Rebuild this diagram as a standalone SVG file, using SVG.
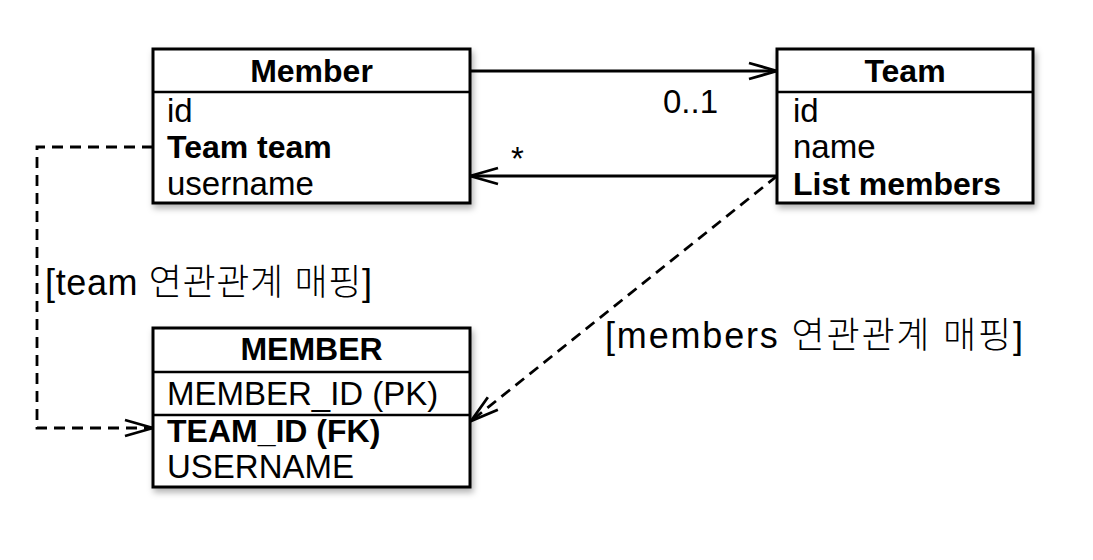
<svg xmlns="http://www.w3.org/2000/svg" width="1093" height="560" viewBox="0 0 1093 560">
<style>
text{font-family:"Liberation Sans","Noto Sans CJK KR",sans-serif;fill:#000}
.title{font-size:32px;font-weight:bold;text-anchor:middle}
.f{font-size:33px}
.b{font-size:32px;font-weight:bold}
.lbl{font-size:36px;font-weight:300}
.box{fill:#fff;stroke:#000;stroke-width:3}
.sep{stroke:#000;stroke-width:2.5}
.conn{fill:none;stroke:#000;stroke-width:2.8}
.dash{stroke-dasharray:11 7}
</style>
<defs>
<filter id="sh" x="-10%" y="-10%" width="130%" height="130%">
<feDropShadow dx="2" dy="4" stdDeviation="3" flood-color="#000" flood-opacity="0.3"/>
</filter>
<marker id="arr" markerUnits="userSpaceOnUse" markerWidth="34" markerHeight="22" refX="28" refY="8" orient="auto" viewBox="-3 -3 34 22">
<path d="M0,0 L28,8 L0,16" fill="none" stroke="#000" stroke-width="2.8" stroke-dasharray="none"/>
</marker>
</defs>
<rect width="1093" height="560" fill="#fff"/>
<g id="connectors">
<path class="conn" d="M470,71 L777,71" marker-end="url(#arr)"/>
<path class="conn" d="M777,176 L470,176" marker-end="url(#arr)"/>
<path class="conn dash" d="M153,147 L37,147 L37,428 L153,428" marker-end="url(#arr)"/>
<path class="conn dash" d="M777,176 L471,421" marker-end="url(#arr)"/>
<text class="f" x="663" y="113">0..1</text>
<text class="f" x="511" y="170">*</text>
<text class="lbl" x="45" y="295" textLength="327">[team 연관관계 매핑]</text>
<text class="lbl" x="605" y="348" textLength="418">[members 연관관계 매핑]</text>
</g>
<g id="Member">
<rect class="box" x="153" y="49" width="317" height="154" filter="url(#sh)"/>
<line class="sep" x1="153" y1="92" x2="470" y2="92"/>
<text class="title" x="311.5" y="82">Member</text>
<text class="f" x="167" y="122">id</text>
<text class="b" x="167" y="158">Team team</text>
<text class="f" x="167" y="195">username</text>
</g>
<g id="Team">
<rect class="box" x="777" y="49" width="256" height="154" filter="url(#sh)"/>
<line class="sep" x1="777" y1="92" x2="1033" y2="92"/>
<text class="title" x="905" y="82">Team</text>
<text class="f" x="793" y="122">id</text>
<text class="f" x="793" y="158">name</text>
<text class="b" x="793" y="195">List members</text>
</g>
<g id="MEMBER">
<rect class="box" x="153" y="328" width="317" height="159" filter="url(#sh)"/>
<line class="sep" x1="153" y1="372" x2="470" y2="372"/>
<line class="sep" x1="153" y1="415" x2="470" y2="415"/>
<text class="title" x="311.5" y="360">MEMBER</text>
<text class="f" x="167" y="405">MEMBER_ID (PK)</text>
<text class="b" x="167" y="442">TEAM_ID (FK)</text>
<text class="f" x="167" y="478">USERNAME</text>
</g>
</svg>
